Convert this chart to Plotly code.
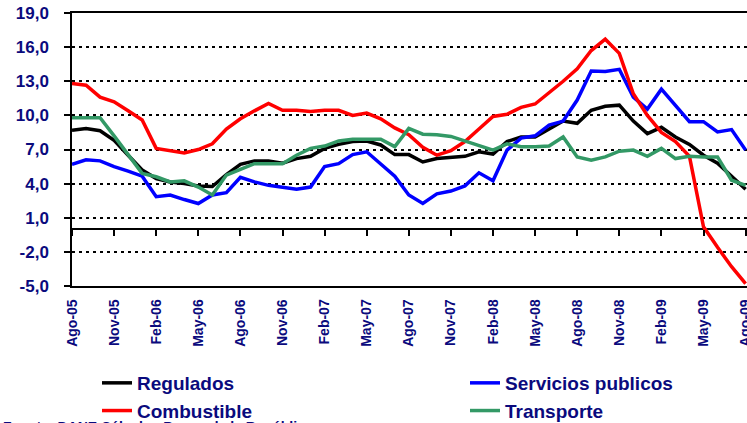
import plotly.graph_objects as go

# ---- data ----
month_idx = list(range(49))  # Ago-05 .. Ago-09, monthly
tick_idx = list(range(0, 49, 3))
tick_labels = ["Ago-05", "Nov-05", "Feb-06", "May-06", "Ago-06", "Nov-06", "Feb-07",
               "May-07", "Ago-07", "Nov-07", "Feb-08", "May-08", "Ago-08", "Nov-08",
               "Feb-09", "May-09", "Ago-09"]
y_ticks = [-5, -2, 1, 4, 7, 10, 13, 16, 19]
y_tick_labels = ["-5,0", "-2,0", "1,0", "4,0", "7,0", "10,0", "13,0", "16,0", "19,0"]

regulados = [8.7, 8.85, 8.65, 7.8, 6.5, 5.2, 4.45, 4.15, 4.0, 3.8,
             3.75, 4.8, 5.7, 6.0, 6.0, 5.8, 6.2, 6.4, 7.1, 7.45,
             7.7, 7.75, 7.4, 6.55, 6.55, 5.9, 6.2, 6.3, 6.4, 6.8,
             6.6, 7.7, 8.1, 8.1, 8.8, 9.5, 9.3, 10.45, 10.8, 10.9,
             9.5, 8.4, 8.95, 8.1, 7.45, 6.5, 5.8, 4.6, 3.5]
servicios = [5.7, 6.1, 6.0, 5.5, 5.1, 4.65, 2.85, 3.0, 2.6, 2.25,
             3.0, 3.2, 4.55, 4.15, 3.85, 3.7, 3.5, 3.7, 5.5, 5.75,
             6.55, 6.8, 5.7, 4.65, 3.0, 2.25, 3.1, 3.35, 3.8, 4.95,
             4.25, 6.95, 8.0, 8.2, 9.15, 9.5, 11.35, 13.9, 13.85, 14.05,
             11.6, 10.55, 12.3, 10.9, 9.45, 9.45, 8.55, 8.75, 6.95]
combustible = [12.8, 12.65, 11.6, 11.2, 10.4, 9.6, 7.1, 6.9, 6.7, 7.0,
               7.5, 8.8, 9.7, 10.4, 11.05, 10.45, 10.45, 10.35, 10.45, 10.45,
               10.0, 10.2, 9.7, 8.9, 8.3, 7.2, 6.5, 6.9, 7.7, 8.8,
               9.9, 10.1, 10.7, 11.0, 12.0, 13.0, 14.1, 15.7, 16.7, 15.45,
               11.9, 10.0, 8.5, 7.7, 6.4, 0.2, -1.6, -3.3, -4.8]
transporte = [9.8, 9.8, 9.8, 8.2, 6.5, 4.9, 4.6, 4.15, 4.25, 3.7,
              3.0, 4.75, 5.25, 5.75, 5.75, 5.75, 6.5, 7.1, 7.3, 7.75,
              7.9, 7.9, 7.9, 7.25, 8.85, 8.35, 8.3, 8.15, 7.75, 7.3,
              6.95, 7.5, 7.25, 7.25, 7.3, 8.1, 6.35, 6.05, 6.35, 6.85,
              6.95, 6.4, 7.1, 6.2, 6.4, 6.35, 6.35, 4.3, 3.85]

NAVY = "#0a0a7d"
FONT = "Liberation Sans, Arial, sans-serif"
W, H = 747, 423
L, R, T, B = 72, 0, 13, 137
x_end = 48.1

fig = go.Figure()
series = [
    ("Regulados", regulados, "#000000", "legend"),
    ("Servicios publicos", servicios, "#0000ff", "legend2"),
    ("Combustible", combustible, "#ff0000", "legend"),
    ("Transporte", transporte, "#339966", "legend2"),
]
for name, vals, col, lg in series:
    fig.add_trace(go.Scatter(x=month_idx, y=vals, mode="lines", name=name,
                             line=dict(color=col, width=3.5), legend=lg,
                             hoverinfo="skip"))

# invisible trace to carry the tick-mark axis at y=0
fig.add_trace(go.Scatter(x=month_idx, y=regulados, xaxis="x2", mode="lines",
                         line=dict(width=0), opacity=0, showlegend=False,
                         hoverinfo="skip"))

ymin, ymax = -5, 19
plot_h = H - T - B
fig.update_layout(
    width=W, height=H,
    margin=dict(l=L, r=R, t=T, b=B, autoexpand=False),
    paper_bgcolor="white", plot_bgcolor="white",
    showlegend=True,
    xaxis=dict(range=[0, x_end], tickvals=tick_idx, ticktext=tick_labels,
               tickangle=-90, ticks="", showgrid=False, zeroline=False,
               showline=True, linecolor="black", linewidth=1.5, mirror=True,
               ticklabelstandoff=6, ticklabeloverflow="allow",
               tickfont=dict(family=FONT, size=14, color=NAVY, weight="bold")),
    xaxis2=dict(range=[0, x_end], overlaying="x", anchor="free",
                position=(0 - ymin) / (ymax - ymin), tickvals=tick_idx,
                ticks="outside", ticklen=6, tickwidth=1.5, tickcolor="black",
                showticklabels=False, showgrid=False, zeroline=False,
                showline=False),
    yaxis=dict(range=[ymin, ymax], tickvals=y_ticks, ticktext=y_tick_labels,
               ticks="outside", ticklen=6, tickwidth=1.5, tickcolor="black",
               showgrid=True, gridcolor="black", gridwidth=2,
               griddash="3px,4px",
               zeroline=True, zerolinecolor="black", zerolinewidth=1.5,
               showline=True, linecolor="black", linewidth=1.5,
               ticklabelstandoff=12, ticklabeloverflow="allow",
               tickfont=dict(family=FONT, size=17, color=NAVY, weight="bold")),
    legend=dict(xref="container", yref="container", x=97 / W, y=1 - 364 / H,
                xanchor="left", yanchor="top", bgcolor="rgba(0,0,0,0)",
                font=dict(family=FONT, size=19, color=NAVY, weight="bold"),
                tracegroupgap=0),
    legend2=dict(xref="container", yref="container", x=465 / W, y=1 - 364 / H,
                 xanchor="left", yanchor="top", bgcolor="rgba(0,0,0,0)",
                 font=dict(family=FONT, size=19, color=NAVY, weight="bold"),
                 tracegroupgap=0),
    annotations=[dict(text="Fuente: DANE Cálculos Banco de la República",
                      xref="paper", yref="paper",
                      x=(1 - L) / (W - L - R), y=(T + plot_h - 417) / plot_h,
                      xanchor="left", yanchor="top", showarrow=False,
                      font=dict(family=FONT, size=14, color=NAVY, weight="bold"))],
)

fig.write_html(
    "out.html",
    config={"displayModeBar": False},
    post_script="document.body.style.margin='0';document.body.style.overflow='hidden';",
)
